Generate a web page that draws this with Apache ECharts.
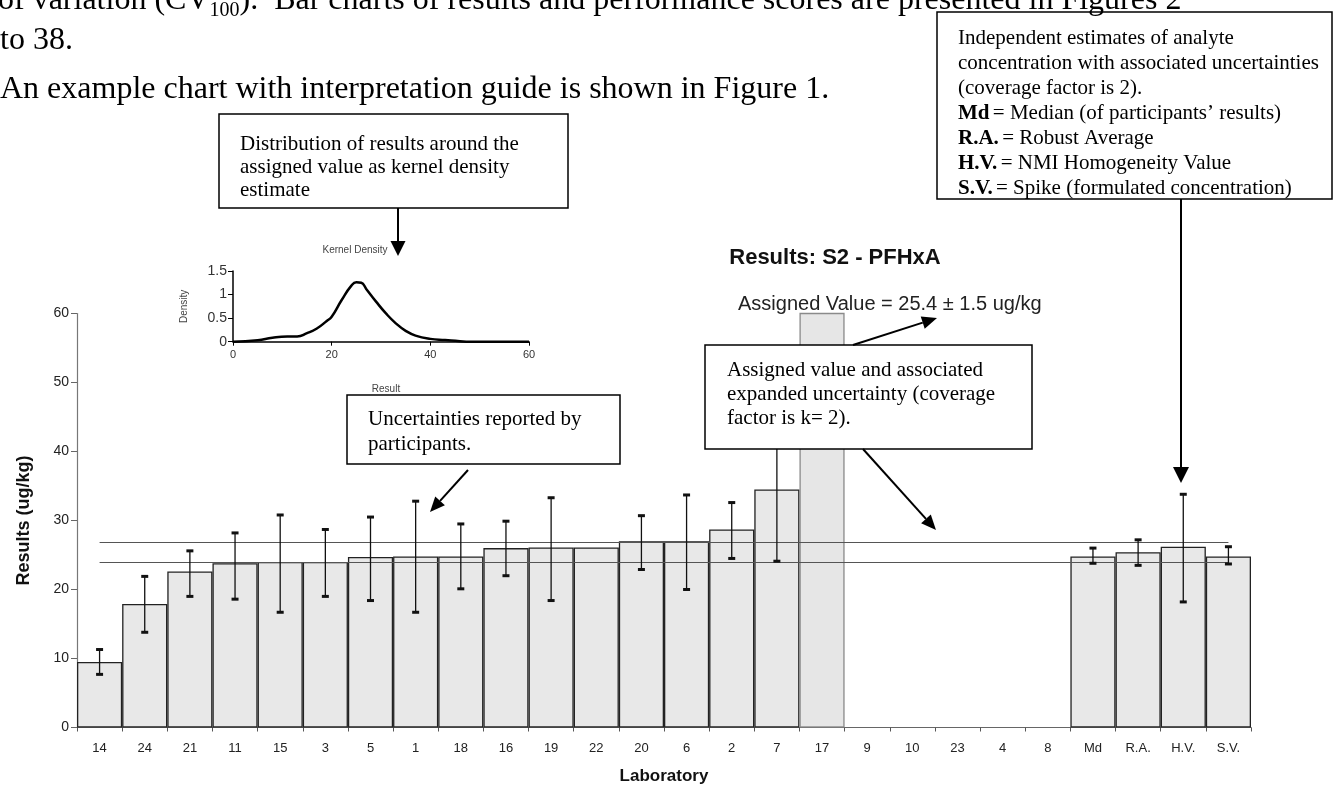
<!DOCTYPE html>
<html><head><meta charset="utf-8">
<script src="https://cdn.jsdelivr.net/npm/echarts@6/dist/echarts.min.js"></script>
<style>html,body{margin:0;padding:0;background:#fff;overflow:hidden}#c{width:1336px;height:787px}</style>
</head><body><div id="c"></div><script>
// ---- data ----
const laboratories = ['14','24','21','11','15','3','5','1','18','16','19','22','20','6','2','7','17','9','10','23','4','8','Md','R.A.','H.V.','S.V.'];
const results = [9.5,17.9,22.6,23.8,24.0,24.0,24.7,24.8,24.8,26.0,26.1,26.1,27.0,27.0,28.7,34.5,70,null,null,null,null,null,24.8,25.4,26.2,24.8];
const uncertaintyLow  = [7.7,13.8,19.0,18.6,16.7,19.0,18.4,16.7,20.1,22.0,18.4,null,22.9,20.0,24.5,24.1,null,null,null,null,null,null,23.8,23.5,18.2,23.7];
const uncertaintyHigh = [11.3,21.9,25.6,28.2,30.8,28.7,30.5,32.8,29.5,29.9,33.3,null,30.7,33.7,32.6,44.9,null,null,null,null,null,null,26.0,27.2,33.8,26.2];
const assignedValue = 25.4;
const assignedUncertainty = 1.5;
const yMin = 0, yMax = 60, yStep = 10;
const kdeX = [0,5,8,11,13,15,17,19,20,22,24,25,26,27,29,31,33,35,37,40,43,46,48,60];
const kdeY = [0,0.03,0.085,0.11,0.11,0.18,0.28,0.44,0.53,0.88,1.19,1.26,1.25,1.12,0.85,0.60,0.39,0.23,0.13,0.06,0.035,0.01,0,0];
const kdeXTicks = {min:0, max:60, step:20};
const kdeYTicks = {min:0, max:1.5, step:0.5};

// ---- build ----
const SERIF = '"Liberation Serif","Times New Roman",serif';
const SANS = '"Liberation Sans",Arial,sans-serif';
const barData = results.map(v => v == null ? null : (v > yMax ? {value:v, itemStyle:{borderColor:'#8a8a8a', color:'#e6e6e6'}} : v));
const errData = [];
laboratories.forEach((l,i)=>{ if(uncertaintyLow[i]!=null) errData.push([i, uncertaintyLow[i], uncertaintyHigh[i]]); });
const kdeData = kdeX.map((x,i)=>[x,kdeY[i]]);
const hiLine = +(assignedValue+assignedUncertainty).toFixed(2), loLine = +(assignedValue-assignedUncertainty).toFixed(2);
const first = laboratories[0], last = laboratories[laboratories.length-1];

function arrow(x1,y1,x2,y2,len,w){
  const a = Math.atan2(y2-y1,x2-x1), c=Math.cos(a), s=Math.sin(a);
  const bx = x2-len*c, by = y2-len*s;
  return [
    {type:'line', z:110, shape:{x1:x1,y1:y1,x2:bx,y2:by}, style:{stroke:'#000', lineWidth:2}},
    {type:'polygon', z:110, shape:{points:[[x2,y2],[bx - w/2*s, by + w/2*c],[bx + w/2*s, by - w/2*c]]}, style:{fill:'#000'}}
  ];
}
function box(x,y,w,h){ return {type:'rect', z:100, shape:{x:x,y:y,width:w,height:h}, style:{fill:'#fff', stroke:'#000', lineWidth:1.5}}; }

const richBox = {n:{fontFamily:SERIF, fontSize:21, lineHeight:25, fill:'#000'}, b:{fontFamily:SERIF, fontSize:21, fontWeight:'bold', lineHeight:25, fill:'#000'}};

const graphics = [
  box(219,114,349,94),
  box(347,395,273,69),
  box(705,345,327,104),
  box(937,12,395,187),
  {type:'text', z:120, x:-2, y:1, style:{text:'{a|of variation (CV}{s|100}{a|).  Bar charts of results and performance scores are presented in Figures 2}', rich:{a:{fontFamily:SERIF,fontSize:32,lineHeight:40,verticalAlign:'middle',fill:'#000'}, s:{fontFamily:SERIF,fontSize:20,lineHeight:20,verticalAlign:'bottom',fill:'#000'}}, verticalAlign:'middle'}},
  {type:'text', x:0, y:41, style:{text:'to 38.', font:'32px '+SERIF, fill:'#000', verticalAlign:'middle'}},
  {type:'text', x:0, y:90, style:{text:'An example chart with interpretation guide is shown in Figure 1.', font:'32px '+SERIF, fill:'#000', verticalAlign:'middle'}},
  {type:'text', x:835, y:258, style:{text:'Results: S2 - PFHxA', font:'bold 22px '+SANS, fill:'#111', align:'center', verticalAlign:'middle'}},
  {type:'text', x:738, y:304, style:{text:'Assigned Value = 25.4 \u00b1 1.5 ug/kg', font:'20px '+SANS, fill:'#222', align:'left', verticalAlign:'middle'}},
  {type:'text', x:355, y:250, style:{text:'Kernel Density', font:'10px '+SANS, fill:'#444', align:'center', verticalAlign:'middle'}},
  {type:'text', z:105, x:240, y:133, style:{text:'Distribution of results around the\nassigned value as kernel density\nestimate', font:'21px '+SERIF, fill:'#000', lineHeight:23, verticalAlign:'top'}},
  {type:'text', z:105, x:368, y:407, style:{text:'Uncertainties reported by\nparticipants.', font:'21px '+SERIF, fill:'#000', lineHeight:25, verticalAlign:'top'}},
  {type:'text', z:105, x:727, y:358, style:{text:'Assigned value and associated\nexpanded uncertainty (coverage\nfactor is k= 2).', font:'21px '+SERIF, fill:'#000', lineHeight:24, verticalAlign:'top'}},
  {type:'text', z:105, x:958, y:26, style:{text:'{n|Independent estimates of analyte}\n{n|concentration with associated uncertainties}\n{n|(coverage factor is 2).}\n{b|Md} {n|= Median (of participants\u2019 results)}\n{b|R.A.} {n|= Robust Average}\n{b|H.V.} {n|= NMI Homogeneity Value}\n{b|S.V.} {n|= Spike (formulated concentration)}', rich:richBox, verticalAlign:'top'}},
  ...arrow(398,208,398,256,15,15),
  ...arrow(468,470,430,512,15,13),
  ...arrow(853,345,937,318,15,13),
  ...arrow(863,449,936,530,15,13),
  ...arrow(1181,199,1181,483,16,16)
];

const chart = echarts.init(document.getElementById('c'), null, {renderer:'canvas'});
chart.setOption({
  animation:false,
  backgroundColor:'#fff',
  grid:[
    {left:77, top:313.5, right:85, bottom:59.5, outerBoundsMode:'none', containLabel:false},
    {left:233, top:271, width:296, height:70.7, outerBoundsMode:'none', containLabel:false}
  ],
  xAxis:[
    {type:'category', gridIndex:0, data:laboratories, boundaryGap:true,
     axisLine:{lineStyle:{color:'#666', width:1.2}},
     axisTick:{show:true, alignWithLabel:false, interval:0, length:4, lineStyle:{color:'#555'}},
     axisLabel:{interval:0, fontSize:13, color:'#222', margin:14, fontFamily:SANS},
     name:'Laboratory', nameLocation:'middle', nameGap:40,
     nameTextStyle:{fontSize:17, fontWeight:'bold', color:'#111', fontFamily:SANS}},
    {type:'value', gridIndex:1, min:kdeXTicks.min, max:kdeXTicks.max, interval:kdeXTicks.step,
     splitLine:{show:false},
     axisLine:{lineStyle:{color:'#000', width:1.5}},
     axisTick:{length:4, lineStyle:{color:'#000'}},
     axisLabel:{fontSize:11, color:'#333', margin:8, fontFamily:SANS},
     name:'Result', nameLocation:'middle', nameGap:43,
     nameTextStyle:{fontSize:10, color:'#444', fontFamily:SANS, padding:[0,0,0,10]}}
  ],
  yAxis:[
    {type:'value', gridIndex:0, min:yMin, max:yMax, interval:yStep,
     splitLine:{show:false},
     axisLine:{show:true, lineStyle:{color:'#777', width:1.2}},
     axisTick:{show:true, length:6, lineStyle:{color:'#666'}},
     axisLabel:{fontSize:14, color:'#222', margin:8, fontFamily:SANS},
     name:'Results (ug/kg)', nameLocation:'middle', nameGap:44, nameRotate:90,
     nameTextStyle:{fontSize:18, fontWeight:'bold', color:'#111', fontFamily:SANS}},
    {type:'value', gridIndex:1, min:kdeYTicks.min, max:kdeYTicks.max, interval:kdeYTicks.step,
     splitLine:{show:false},
     axisLine:{show:true, lineStyle:{color:'#000', width:1.5}},
     axisTick:{show:true, length:5, lineStyle:{color:'#000'}},
     axisLabel:{fontSize:14, color:'#333', margin:6, fontFamily:SANS},
     name:'Density', nameLocation:'middle', nameGap:44, nameRotate:90,
     nameTextStyle:{fontSize:10, color:'#444', fontFamily:SANS}}
  ],
  series:[
    {type:'bar', xAxisIndex:0, yAxisIndex:0, data:barData, barCategoryGap:'0%', barGap:'0%',
     itemStyle:{color:'#e8e8e8', borderColor:'#222', borderWidth:1.3},
     markLine:{silent:true, symbol:['none','none'], label:{show:false},
       lineStyle:{color:'#555', width:1.2, type:'solid'},
       data:[
         [{coord:[first, hiLine]},{coord:[last, hiLine]}],
         [{coord:[first, loLine]},{coord:[last, loLine]}]
       ]}},
    {type:'custom', xAxisIndex:0, yAxisIndex:0, data:errData, z:5,
     encode:{x:0, y:[1,2]},
     renderItem:function(params, api){
       const x = api.value(0);
       const top = api.coord([x, api.value(2)]), bot = api.coord([x, api.value(1)]);
       return {type:'group', children:[
         {type:'line', shape:{x1:top[0],y1:top[1],x2:bot[0],y2:bot[1]}, style:{stroke:'#111', lineWidth:1.3}},
         {type:'rect', shape:{x:top[0]-3.5,y:top[1]-1.5,width:7,height:3}, style:{fill:'#111'}},
         {type:'rect', shape:{x:bot[0]-3.5,y:bot[1]-1.5,width:7,height:3}, style:{fill:'#111'}}
       ]};
     }},
    {type:'line', xAxisIndex:1, yAxisIndex:1, data:kdeData, smooth:0.5, symbol:'none',
     lineStyle:{color:'#000', width:2.5}}
  ],
  graphic:graphics
});
</script></body></html>
